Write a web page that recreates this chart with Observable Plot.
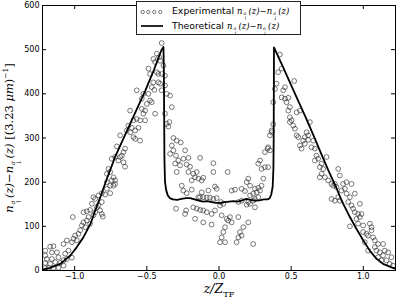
<!DOCTYPE html>
<html>
<head>
<meta charset="utf-8">
<script src="https://cdn.jsdelivr.net/npm/d3@7"></script>
<script src="https://cdn.jsdelivr.net/npm/@observablehq/plot@0.6"></script>
<style>
  html, body { margin: 0; padding: 0; background: white; }
  #wrap { position: relative; width: 399px; height: 299px; overflow: hidden; font-family: "DejaVu Sans", sans-serif; }
  #wrap svg { display: block; }
  .math { font-family: "DejaVu Serif", serif; font-style: italic; }
  .rm { font-style: normal; }
  .ss { display: inline-flex; flex-direction: column; font-size: 0.56em; line-height: 1.02; vertical-align: -0.3em; margin: 0 1px; text-align: left; }
  .ss > span { display: block; height: 1.02em; }
  #legend { position: absolute; left: 136px; top: 1px; width: 165px; height: 34px; border: 1px solid #222; background: white; box-sizing: border-box; }
  #legend .row { position: absolute; left: 35px; font-size: 9.3px; white-space: nowrap; line-height: 1; }
  #legend .row .math { font-size: 8.5px; }
  #legend svg { position: absolute; left: 0; top: 0; }
  #ylabel { position: absolute; left: 12px; top: 138px; transform: translate(-50%, -50%) rotate(-90deg); white-space: nowrap; font-size: 11.5px; }
  #xlabel { position: absolute; left: 219px; top: 290px; transform: translate(-50%, -50%); white-space: nowrap; font-size: 12.5px; }
</style>
</head>
<body>
<div id="wrap">
  <div id="chart"></div>
  <div id="legend">
    <svg width="34" height="31" id="legmarks"></svg>
    <div class="row" style="top:4px">Experimental <span class="math">n<span class="ss"><span>a</span><span class="rm">↑</span></span>(z)<span class="rm">−</span>n<span class="ss"><span>a</span><span class="rm">↓</span></span>(z)</span></div>
    <div class="row" style="top:19px">Theoretical <span class="math">n<span class="ss"><span>a</span><span class="rm">↑</span></span>(z)<span class="rm">−</span>n<span class="ss"><span>a</span><span class="rm">↓</span></span>(z)</span></div>
  </div>
  <div id="ylabel" class="math">n<span class="ss"><span>a</span><span class="rm">↑</span></span>(z)<span class="rm">−</span>n<span class="ss"><span>a</span><span class="rm">↓</span></span>(z) <span class="rm">[(3.23</span> μm<span class="rm">)</span><sup class="rm" style="font-size:0.65em">−1</sup><span class="rm">]</span></div>
  <div id="xlabel" class="math">z/Z<sub class="rm" style="font-size:0.65em">TF</sub></div>
</div>
<script>
// Tick values
const xTicks = [-1.0, -0.5, 0.0, 0.5, 1.0];
const yTicks = [0, 100, 200, 300, 400, 500, 600];

// Theoretical curve n_up - n_down
const theoryX = [-1.223, -1.17, -1.10, -1.03, -0.985, -0.94, -0.89, -0.86, -0.82, -0.78, -0.72, -0.63, -0.51, -0.45, -0.40, -0.385,
  -0.382, -0.380, -0.378, -0.374, -0.366, -0.355, -0.34, -0.32, -0.29, -0.26, -0.23, -0.20, -0.17, -0.14, -0.11, -0.08, -0.05, -0.02,
  0.01, 0.04, 0.07, 0.10, 0.13, 0.16, 0.19, 0.22, 0.25, 0.28, 0.31, 0.335, 0.35, 0.362, 0.372, 0.377, 0.379, 0.380, 0.381,
  0.45, 0.52, 0.60, 0.66, 0.71, 0.76, 0.81, 0.85, 0.907, 0.953, 1.0, 1.045, 1.09, 1.137, 1.195, 1.223];
const theoryY = [2, 6, 15, 34, 53, 75, 106, 134, 168, 205, 257, 322, 408, 455, 498, 506,
  450, 350, 250, 200, 182, 170, 164, 161, 160, 162, 164, 164, 161, 158, 156, 157, 155, 153,
  153, 155, 156, 157, 156, 159, 162, 160, 158, 159, 161, 161, 163, 172, 190, 230, 300, 400, 505,
  456, 405, 347, 302, 263, 225, 190, 158, 121, 94, 68, 45, 27, 15, 7, 4];

// Experimental points [z/Z_TF, n_up - n_down]
const experimental = [
  [-1.204,45],[-1.170,54],[-1.147,55],[-1.204,34],[-1.158,41],[-1.123,41],[-1.193,26],[-1.158,26],[-1.112,30],[-1.204,17],
  [-1.170,15],[-1.135,19],[-1.100,17],[-1.077,11],[-1.181,6],[-1.147,6],[-1.112,6],[-1.204,6],[-1.077,23],[-1.054,26],
  [-1.019,29],[-1.066,38],[-1.043,45],[-1.077,60],[-1.054,68],[-1.019,64],[-1.008,72],[-0.985,68],[-0.997,79],[-0.974,83],
  [-0.962,91],[-1.013,121],[-0.950,102],[-0.927,98],[-0.939,109],[-0.916,113],[-0.893,106],[-0.904,121],[-0.870,125],[-0.858,132],
  [-0.939,132],[-0.916,134],[-0.893,137],[-0.846,143],[-0.824,136],[-0.812,128],[-0.805,122],[-0.881,151],[-0.858,162],[-0.870,166],
  [-0.835,170],[-0.812,175],[-0.789,172],[-0.754,175],[-0.777,185],[-0.754,192],[-0.731,192],[-0.777,200],[-0.720,196],[-0.812,155],
  [-0.835,147],
  [-0.397,515],[-0.431,491],[-0.415,483],[-0.455,479],[-0.443,472],[-0.408,475],[-0.385,464],[-0.431,449],[-0.420,445],[-0.397,445],
  [-0.374,441],[-0.489,457],[-0.478,445],[-0.455,426],[-0.420,426],[-0.466,415],[-0.448,409],[-0.408,423],[-0.570,408],[-0.524,400],
  [-0.489,400],[-0.478,385],[-0.535,389],[-0.466,381],[-0.500,377],[-0.374,419],[-0.362,400],[-0.397,408],[-0.616,362],[-0.535,366],
  [-0.512,362],[-0.524,355],[-0.443,355],[-0.570,343],[-0.547,340],[-0.512,340],[-0.593,340],[-0.628,328],[-0.604,323],[-0.639,317],
  [-0.616,313],[-0.581,317],[-0.558,323],[-0.593,302],[-0.581,298],[-0.547,294],[-0.685,306],[-0.708,281],[-0.651,276],[-0.662,268],
  [-0.673,260],[-0.685,257],[-0.697,249],[-0.662,245],[-0.720,257],[-0.743,253],[-0.651,235],[-0.766,230],[-0.754,223],[-0.777,219],
  [-0.731,211],[-0.743,204],[-0.720,204],
  [-0.362,332],[-0.339,396],
  [-0.327,370],[-0.374,355],[-0.344,336],[-0.351,326],[-0.316,300],[-0.293,294],[-0.265,290],[-0.327,283],[-0.316,272],[-0.339,264],
  [-0.298,260],[-0.235,272],[-0.282,249],[-0.247,253],[-0.212,255],[-0.131,255],[-0.039,243],[-0.304,242],[-0.270,238],[-0.224,240],
  [-0.201,235],[-0.293,223],[-0.212,223],[-0.178,219],[-0.154,223],[-0.166,211],[-0.143,208],[-0.120,204],[-0.109,210],[-0.189,204],
  [-0.039,223],[-0.258,192],[-0.247,181],[-0.189,183],[-0.224,175],[-0.028,190],[-0.074,181],[-0.120,177],[-0.016,185],[-0.143,166],
  [-0.131,166],[-0.109,166],[-0.085,165],[-0.062,165],[-0.039,162],[-0.016,164],[-0.298,140],[-0.228,136],[-0.178,143],[-0.154,140],
  [-0.131,137],[-0.109,136],[-0.085,132],[-0.051,128],[-0.028,136],[-0.235,128],[-0.166,117],[-0.109,109],[-0.051,104],
  [0.376,331],[0.365,313],[0.353,306],[0.337,276],[0.353,272],[0.318,268],[0.284,249],[0.272,242],[0.295,230],[0.318,234],
  [0.341,234],[0.307,208],[0.203,208],[0.192,200],[0.215,192],[0.060,223],[0.088,181],[0.111,183],[0.157,185],[0.180,180],
  [0.249,185],[0.272,187],[0.284,181],[0.261,177],[0.295,192],[0.237,174],[0.215,170],[0.272,166],[0.249,162],[0.237,158],
  [0.203,155],[0.192,149],[0.215,151],[0.249,143],[0.014,155],[0.030,151],[0.007,147],[0.134,155],[0.157,158],[0.018,125],
  [0.053,117],[0.076,121],[0.064,113],[0.088,109],[0.134,121],[0.203,109],[0.168,98],[0.145,87],[0.157,79],[0.134,75],
  [0.042,98],[0.030,87],[0.018,75],[0.007,64],[0.122,64],[0.237,60],[0.042,64],
  [0.422,489],[0.434,457],[0.410,449],[0.521,429],[0.399,423],[0.388,411],[0.445,408],[0.457,415],[0.434,392],[0.457,389],
  [0.480,391],[0.468,381],[0.491,370],[0.480,362],[0.538,358],[0.561,362],[0.491,347],[0.503,340],[0.514,328],[0.526,321],
  [0.491,336],[0.538,306],[0.549,302],[0.630,336],[0.607,313],[0.618,306],[0.595,302],[0.583,294],[0.561,283],[0.572,276],
  [0.595,287],[0.618,296],[0.653,294],[0.641,279],[0.664,276],[0.676,260],[0.687,253],[0.664,249],[0.699,234],[0.722,230],
  [0.745,257],[0.711,219],[0.734,211],[0.699,211],[0.757,204],[0.780,196],[0.803,196],[0.814,189],[0.826,230],[0.376,381],
  [0.365,317],[0.341,279],
  [0.711,242],[0.791,192],[0.837,215],[0.860,196],[0.884,200],[0.918,196],[0.849,181],[0.872,185],[0.884,174],[0.941,174],
  [0.780,162],[0.803,158],[0.826,166],[0.837,158],[0.907,166],[0.895,155],[0.918,147],[0.929,140],[0.976,151],[0.941,132],
  [0.964,128],[0.988,128],[0.953,117],[0.976,121],[0.907,100],[0.964,106],[0.999,102],[0.999,87],[1.022,83],[1.045,106],
  [1.057,98],[1.033,79],[1.068,75],[1.057,91],[1.080,68],[1.102,60],[1.137,60],[1.010,64],[1.091,45],[1.114,41],
  [1.149,45],[1.172,41],[1.195,30],[1.137,34],[1.161,23],[1.183,15],[1.206,11],[1.102,30],[1.126,23],[1.080,53],
  [1.033,45]
];

const theory = theoryX.map((x, i) => ({x, y: theoryY[i]}));
const W = 399, H = 299, mL = 42, mR = 4, mT = 5, mB = 29;
const fw = W - mL - mR, fh = H - mT - mB, tk = 4;

const chart = Plot.plot({
  width: W, height: H,
  marginLeft: mL, marginRight: mR, marginTop: mT, marginBottom: mB,
  x: {domain: [-1.223, 1.223]},
  y: {domain: [0, 600]},
  style: {fontFamily: "DejaVu Sans", fontSize: "8px", background: "white", color: "black", overflow: "visible"},
  marks: [
    Plot.dot(experimental, {x: d => d[0], y: d => d[1], r: 2.4, stroke: "#222", strokeWidth: 0.6, fill: "none", clip: true}),
    Plot.line(theory, {x: "x", y: "y", stroke: "black", strokeWidth: 1.8, clip: true}),
    Plot.tickX(xTicks, {x: d => d, insetTop: fh - tk, stroke: "black"}),
    Plot.tickX(xTicks, {x: d => d, insetBottom: fh - tk, stroke: "black"}),
    Plot.tickY(yTicks, {y: d => d, insetRight: fw - tk, stroke: "black"}),
    Plot.tickY(yTicks, {y: d => d, insetLeft: fw - tk, stroke: "black"}),
    Plot.frame({stroke: "black", strokeWidth: 1}),
    Plot.axisX({ticks: xTicks, tickSize: 0, tickPadding: 3, tickFormat: d3.format(".1f"), label: null, fill: "black"}),
    Plot.axisY({ticks: yTicks, tickSize: 0, tickPadding: 3, tickFormat: d => String(d), label: null, fill: "black"})
  ]
});
document.getElementById("chart").appendChild(chart);

// legend markers
const lm = d3.select("#legmarks");
[5.7, 11.3, 17.3, 23.3].forEach(cx => lm.append("circle").attr("cx", cx).attr("cy", 10).attr("r", 1.7)
  .attr("fill", "none").attr("stroke", "#222").attr("stroke-width", 0.6));
lm.append("line").attr("x1", 4).attr("x2", 26).attr("y1", 24).attr("y2", 24).attr("stroke", "black").attr("stroke-width", 1.7);
</script>
</body>
</html>
